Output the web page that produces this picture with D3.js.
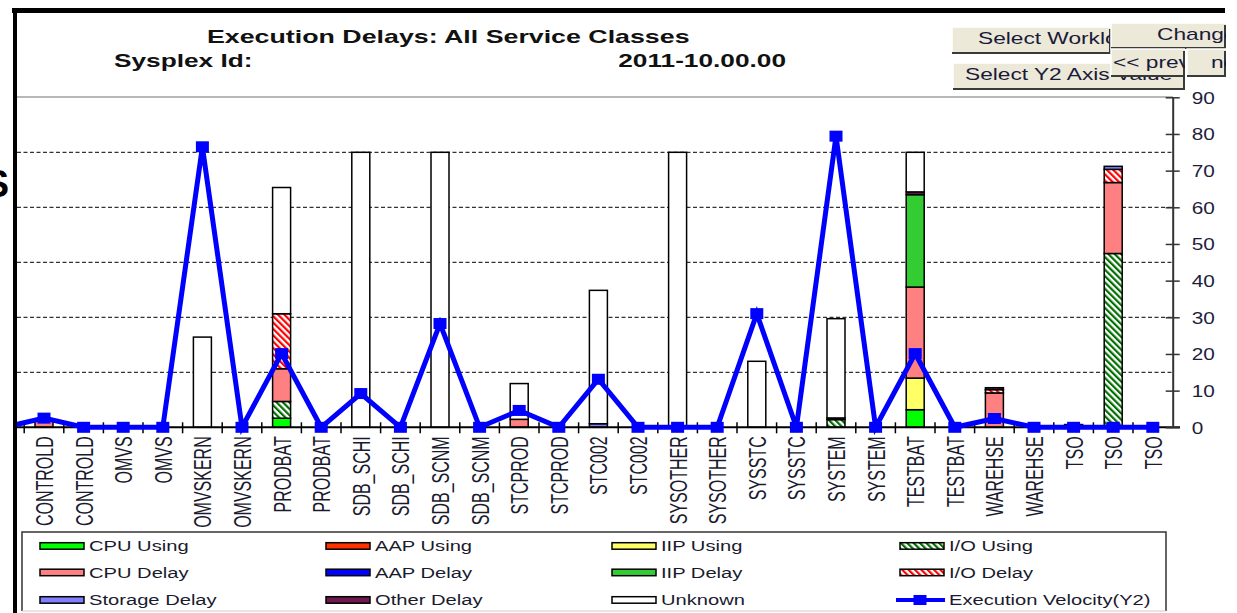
<!DOCTYPE html>
<html><head><meta charset="utf-8">
<script src="https://cdn.jsdelivr.net/npm/d3@7/dist/d3.min.js"></script>
<style>
html,body{margin:0;padding:0;background:#fff;overflow:hidden}
svg{display:block;font-family:"Liberation Sans",Arial,Helvetica,sans-serif}
</style>
</head><body>
<svg id="c" width="1237" height="613"></svg>
<script>
// ---------------- data ----------------
const categories = ["CONTROLD","CONTROLD","OMVS","OMVS","OMVSKERN","OMVSKERN","PRODBAT","PRODBAT",
  "SDB_SCHI","SDB_SCHI","SDB_SCNM","SDB_SCNM","STCPROD","STCPROD","STC002","STC002",
  "SYSOTHER","SYSOTHER","SYSSTC","SYSSTC","SYSTEM","SYSTEM","TESTBAT","TESTBAT",
  "WAREHSE","WAREHSE","TSO","TSO","TSO"];
// stacked delay series (% of samples, primary axis 0-120, hidden)
const cpuUsing     = [0,0,0,0,0,0,3.3,0,0,0,0,0,0,0,0,0,0,0,0,0,0,0,6.4,0,0,0,0,0,0];
const aapUsing     = [0,0,0,0,0,0,0,0,0,0,0,0,0,0,0,0,0,0,0,0,0,0,0,0,0,0,0,0,0];
const iipUsing     = [0,0,0,0,0,0,0,0,0,0,0,0,0,0,0,0,0,0,0,0,0,0,11.5,0,0,0,0,0,0];
const ioUsing      = [0,0,0,0,0,0,6.1,0,0,0,0,0,0,0,0,0,0,0,0,0,2.8,0,0,0,0,0,0,63.2,0];
const cpuDelay     = [2.5,0,0,0,0,0,11.9,0,0,0,0,0,2.9,0,0,0,0,0,0,0,0,0,33.1,0,12.5,0,0,25.8,0];
const aapDelay     = [0,0,0,0,0,0,0,0,0,0,0,0,0,0,0,0,0,0,0,0,0,0,0,0,0,0,0,0,0];
const iipDelay     = [0,0,0,0,0,0,0,0,0,0,0,0,0,0,0,0,0,0,0,0,0,0,33.6,0,0,0,0,0,0];
const ioDelay      = [0,0,0,0,0,0,20.0,0,0,0,0,0,0,0,0,0,0,0,0,0,0,0,0,0,1.2,0,0,4.8,0];
const storageDelay = [0,0,0,0,0,0,0,0,0,0,0,0,0,0,1.3,0,0,0,0,0,0,0,0,0,0,0,0,1.1,0];
const otherDelay   = [0,0,0,0,0,0,0,0,0,0,0,0,0,0,0,0,0,0,0,0,0.6,0,1.0,0,0.7,0,0,0,0];
const unknown      = [0,0,0,0,32.8,0,45.9,0,100,0,100,0,13.0,0,48.5,0,100,0,24.0,0,36.1,0,14.4,0,0,0,1.0,0,0];
// execution velocity (Y2 axis)
const velocity     = [2.5,0,0,0,76.5,0,20.1,0,9.2,0,28.3,0,4.6,0,13.1,0,0,0,31,0,79.4,0,20.1,0,2.4,0,0,0,0];
const prevVelocity = 0; // point just before the visible window (scrolled off)

const seriesNames = ["CPU Using","AAP Using","IIP Using","I/O Using","CPU Delay","AAP Delay",
  "IIP Delay","I/O Delay","Storage Delay","Other Delay","Unknown"];
const velocityName = "Execution Velocity(Y2)";
const y2Ticks = [0,10,20,30,40,50,60,70,80,90];
const gridTicks = [20,40,60,80,100];
const titleText = "Execution Delays: All Service Classes";
const sysplexLabel = "Sysplex Id:";
const dateText = "2011-10.00.00";
const buttonLabels = ["Select Workload","Change Time","Select Y2 Axis Value","<< previous","next >>"];

// ---------------- styles ----------------
const fills = ["#00ff00","#ff3300","#ffff66","url(#hatchG)","#ff8080","#0000ff",
  "#33cc33","url(#hatchR)","#8080ff","#701850","#ffffff"];
const blue = "#0000ff";

const svg = d3.select("#c");
const defs = svg.append("defs");
function hatch(id, color){
  const p = defs.append("pattern").attr("id",id).attr("patternUnits","userSpaceOnUse")
    .attr("width",4.5).attr("height",4.5).attr("patternTransform","rotate(-45)");
  p.append("rect").attr("width",4.5).attr("height",4.5).attr("fill","#fff");
  p.append("rect").attr("width",2.2).attr("height",4.5).attr("fill",color);
}
hatch("hatchG","#006e00");
hatch("hatchR","#ff0000");
defs.append("clipPath").attr("id","plotClip").append("rect")
  .attr("x",17).attr("y",90).attr("width",1156).attr("height",350);

// ---------------- scales ----------------
const yBase = 427.3, yTop = 97.3;
const x = d3.scaleBand().domain(d3.range(categories.length)).range([24.2,1172.6]).padding(0);
const cx = i => x(0) + x.step()*i + x.bandwidth()/2;
const yBar = d3.scaleLinear().domain([0,120]).range([yBase,yTop]);
const y2 = d3.scaleLinear().domain([0,90]).range([yBase,yTop]);

// ---------------- frame ----------------
svg.append("rect").attr("x",12).attr("y",8).attr("width",1213).attr("height",5).attr("fill","#000");
svg.append("rect").attr("x",13).attr("y",8).attr("width",4).attr("height",605).attr("fill","#000");
// cut-off big letter at far left
svg.append("text").attr("x",9).attr("y",197).attr("text-anchor","end")
  .attr("font-size",38).attr("font-weight","bold").attr("fill","#000").text("S");

// titles
function stext(g, str, xx, yy, size, sx, opts={}){
  return g.append("text").attr("transform",`translate(${xx},${yy}) scale(${sx},1)`)
    .attr("font-size",size).attr("font-weight",opts.bold?"bold":"normal")
    .attr("text-anchor",opts.anchor||"start").attr("fill",opts.fill||"#111").text(str);
}
stext(svg, titleText, 207, 42.5, 17.5, 1.53, {bold:true});
stext(svg, sysplexLabel, 114, 66.5, 17.5, 1.5, {bold:true});
defs.append("clipPath").attr("id","dateClip").append("rect").attr("x",619).attr("y",40).attr("width",200).attr("height",40);
stext(svg.append("g").attr("clip-path","url(#dateClip)"), dateText, 786, 66.5, 17.5, 1.5, {bold:true, anchor:"end"});

// plot top line
svg.append("line").attr("x1",17).attr("x2",1173).attr("y1",97).attr("y2",97)
  .attr("stroke","#a0a0a0").attr("stroke-width",1.5);

// gridlines
svg.append("g").selectAll("line").data(gridTicks).join("line")
  .attr("x1",17).attr("x2",1172).attr("y1",d=>yBar(d)).attr("y2",d=>yBar(d))
  .attr("stroke","#333").attr("stroke-width",1.2).attr("stroke-dasharray","4,2.5");

// ---------------- bars ----------------
const seriesValues = [cpuUsing,aapUsing,iipUsing,ioUsing,cpuDelay,aapDelay,iipDelay,ioDelay,storageDelay,otherDelay,unknown];
const rows = categories.map((c,i)=>{ const r={i}; seriesNames.forEach((n,k)=>r[n]=seriesValues[k][i]); return r; });
const stacked = d3.stack().keys(seriesNames)(rows);
const bw = 18;
const barG = svg.append("g");
stacked.forEach((layer,k)=>{
  barG.append("g").selectAll("rect").data(layer.filter(d=>d[1]-d[0]>0)).join("rect")
    .attr("x",d=>cx(d.data.i)-bw/2).attr("width",bw)
    .attr("y",d=>yBar(d[1])).attr("height",d=>yBar(d[0])-yBar(d[1]))
    .attr("fill",fills[k]).attr("stroke","#000").attr("stroke-width",1.5);
});

// ---------------- x axis ----------------
const xAxisG = svg.append("g").attr("transform",`translate(0,${yBase})`)
  .call(d3.axisBottom(x).tickSize(0).tickFormat(i=>categories[i]));
xAxisG.select(".domain").remove();
xAxisG.selectAll("text")
  .attr("transform","translate(0,9) scale(1.55,1) rotate(-90)")
  .attr("x",0).attr("y",0).attr("dy","0.36em")
  .attr("text-anchor","end").attr("font-size",16)
  .attr("font-family","'Liberation Sans',Arial,sans-serif").attr("fill","#1a1a2e");
svg.append("line").attr("x1",17).attr("x2",1180).attr("y1",yBase).attr("y2",yBase)
  .attr("stroke","#000").attr("stroke-width",2);
svg.append("g").selectAll("line").data(d3.range(categories.length)).join("line")
  .attr("x1",i=>x(i)).attr("x2",i=>x(i)).attr("y1",yBase-5).attr("y2",yBase+6)
  .attr("stroke","#000").attr("stroke-width",1.5);

// ---------------- right (Y2) axis ----------------
const y2G = svg.append("g").attr("transform","translate(1172.7,0)")
  .call(d3.axisRight(y2).tickValues(y2Ticks).tickSizeInner(7).tickSizeOuter(0));
y2G.select(".domain").attr("stroke","#333").attr("stroke-width",2);
y2G.selectAll(".tick line").attr("x1",-7).attr("x2",7).attr("stroke","#333").attr("stroke-width",1.5);
y2G.selectAll(".tick text").attr("x",0).attr("dy","0.36em")
  .attr("transform","translate(19,0) scale(1.3,1)")
  .attr("font-size",16).attr("font-family","'Liberation Sans',Arial,sans-serif").attr("fill","#1e1e3c");

// ---------------- velocity line ----------------
const lineData = [{i:-1, v:prevVelocity}].concat(velocity.map((v,i)=>({i,v})));
const lineG = svg.append("g").attr("clip-path","url(#plotClip)");
lineG.append("path").datum(lineData)
  .attr("d", d3.line().x(d=>cx(d.i)).y(d=>y2(d.v)))
  .attr("fill","none").attr("stroke",blue).attr("stroke-width",5).attr("stroke-linejoin","miter");
lineG.selectAll("rect.m").data(lineData.filter(d=>d.i>=0)).join("rect").attr("class","m")
  .attr("x",d=>cx(d.i)-6.5).attr("y",d=>y2(d.v)-5.5).attr("width",13).attr("height",11).attr("fill",blue);

// ---------------- legend ----------------
const lg = svg.append("g");
lg.append("path").attr("d","M22,611 V532 H1166 V611").attr("fill","none").attr("stroke","#333").attr("stroke-width",1.5);
lg.append("line").attr("x1",22).attr("x2",1166).attr("y1",611).attr("y2",611).attr("stroke","#ccc").attr("stroke-width",1);
const colX = [40,326,612,900];
const rowY = [546,572.5,600];
const legendItems = seriesNames.map((n,k)=>({name:n,k})).concat([{name:velocityName,k:-1}]);
legendItems.forEach((it,j)=>{
  const cxl = colX[j%4], cy = rowY[Math.floor(j/4)];
  if(it.k>=0){
    lg.append("rect").attr("x",cxl).attr("y",cy-3.3).attr("width",44).attr("height",6.5)
      .attr("fill",fills[it.k]).attr("stroke","#000").attr("stroke-width",1.5);
  } else {
    lg.append("line").attr("x1",cxl-4).attr("x2",cxl+45).attr("y1",cy).attr("y2",cy)
      .attr("stroke",blue).attr("stroke-width",4);
    lg.append("rect").attr("x",cxl+20-6.5).attr("y",cy-5).attr("width",13).attr("height",10).attr("fill",blue);
  }
  stext(lg, it.name, cxl+49, cy+5.4, 15.5, 1.3, {fill:"#1a1a2e"});
});

// ---------------- buttons ----------------
function button(bx,by,bw_,bh,label,tx,ty,id){
  const g = svg.append("g");
  defs.append("clipPath").attr("id",id).append("rect").attr("x",bx).attr("y",by).attr("width",bw_).attr("height",bh);
  g.append("rect").attr("x",bx).attr("y",by).attr("width",bw_).attr("height",bh).attr("fill","#ece9d8");
  g.append("path").attr("d",`M${bx},${by+bh} V${by} H${bx+bw_}`).attr("fill","none").attr("stroke","#fff").attr("stroke-width",1.5);
  g.append("path").attr("d",`M${bx},${by+bh-1} H${bx+bw_-1} V${by+2}`).attr("fill","none").attr("stroke","#3a3a3a").attr("stroke-width",2);
  stext(g.append("g").attr("clip-path",`url(#${id})`), label, tx, ty, 16, 1.42, {fill:"#1a1a3a"});
}
button(952,27,159,27,buttonLabels[0],978,43.5,"b0");
button(953,63,232,27,buttonLabels[2],965,80,"b2");
button(1111,23,115,26,buttonLabels[1],1157,40,"b1");
button(1111,49,74,28,buttonLabels[3],1113,67.5,"b3");
button(1187,49,39,28,buttonLabels[4],1211,67.5,"b4");
</script>
</body></html>
